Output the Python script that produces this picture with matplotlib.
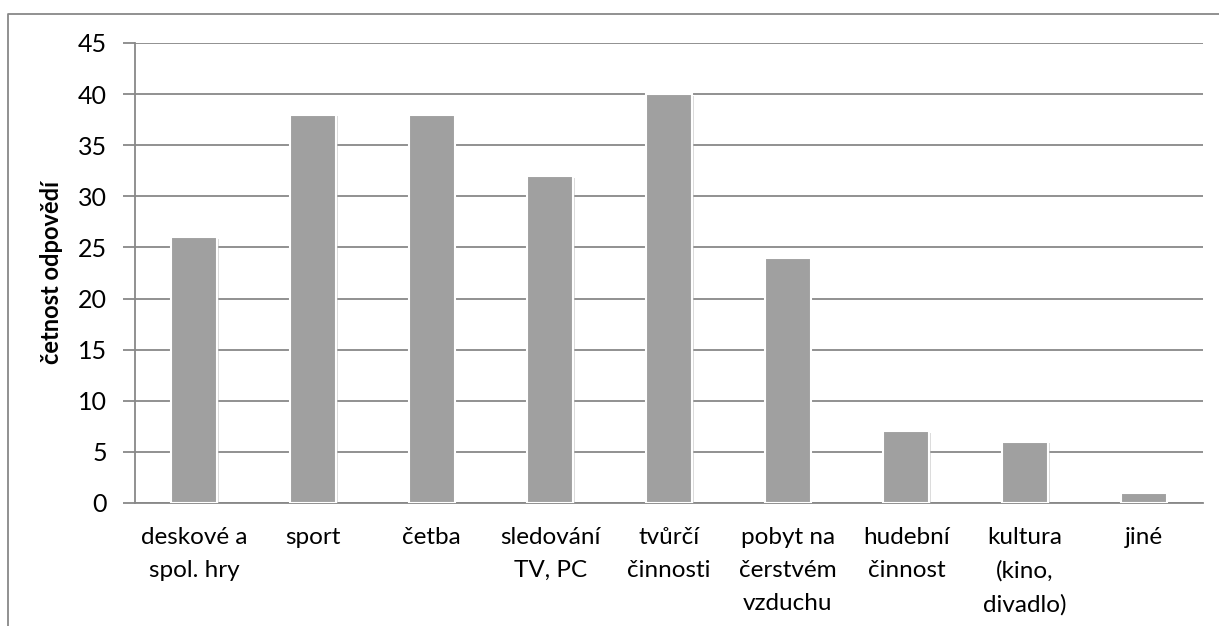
import matplotlib
matplotlib.use("Agg")
import matplotlib.pyplot as plt
from matplotlib.lines import Line2D
import matplotlib.patheffects as pe

categories = ["deskové a\nspol. hry", "sport", "četba", "sledování\nTV, PC",
              "tvůrčí\nčinnosti", "pobyt na\nčerstvém\nvzduchu", "hudební\nčinnost",
              "kultura\n(kino,\ndivadlo)", "jiné"]
values = [26, 38, 38, 32, 40, 24, 7, 6, 1]
yticks = [0, 5, 10, 15, 20, 25, 30, 35, 40, 45]

plt.rcParams['font.family'] = ['Lato', 'DejaVu Sans']

fig = plt.figure(figsize=(12.19, 6.26), dpi=100)
ax = fig.add_axes([135/1219, 1-503/626, (1203-135)/1219, (503-43)/626])

x = range(len(values))
bars = ax.bar(x, values, width=0.385, color="#a0a0a0", edgecolor="white",
              linewidth=1.5, zorder=3)
for b in bars:
    b.set_path_effects([pe.SimplePatchShadow(offset=(1.2, -1.2), shadow_rgbFace="#b8b8b8", alpha=0.5),
                        pe.Normal()])

ax.set_xlim(-0.5, len(values)-0.5)
ax.set_ylim(0, 45)
ax.set_yticks(yticks)
ax.grid(axis="y", color="#888888", linewidth=1.3, zorder=0)
ax.set_xticks(list(x))
ax.set_xticklabels(categories, fontsize=17.5, va="top", linespacing=1.72)
ax.tick_params(axis="x", length=0, pad=17)
ax.tick_params(axis="y", labelsize=18, length=9, width=1.3, color="#888888", pad=11)
for s in ["top", "right"]:
    ax.spines[s].set_visible(False)
ax.spines["left"].set_color("#888888")
ax.spines["left"].set_linewidth(1.3)
ax.spines["bottom"].set_color("#888888")
ax.spines["bottom"].set_linewidth(1.3)
ax.set_ylabel("četnost odpovědí", fontsize=17, fontweight="bold", labelpad=11)

# outer chart border (only top and left visible in the crop)
fig.lines.append(Line2D([8/1219, 8/1219, 1], [0, 1-14/626, 1-14/626],
                        transform=fig.transFigure, color="#888888", linewidth=1.3))

fig.savefig("out.png", dpi=100)
